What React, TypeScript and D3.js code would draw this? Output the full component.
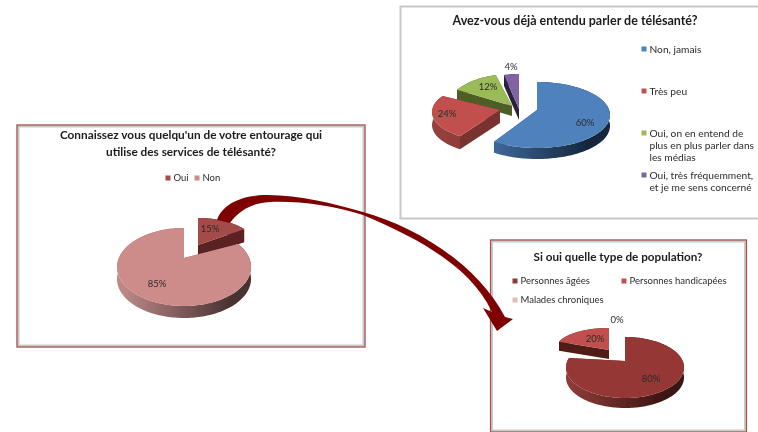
import { useEffect, useRef } from 'react';
import * as d3 from 'd3';

// top right chart
const awarenessTitle = ['Avez-vous déjà entendu parler de télésanté?'];
const awarenessValues = [60, 24, 12, 4];
const awarenessLegend = [
  ['Non, jamais'],
  ['Très peu'],
  ['Oui, on en entend de', 'plus en plus parler dans', 'les médias'],
  ['Oui, très fréquemment,', 'et je me sens concerné'],
];

// left chart
const entourageTitle = ['Connaissez vous quelqu\'un de votre entourage qui', 'utilise des services de télésanté?'];
const entourageValues = [15, 85];
const entourageLegend = ['Oui', 'Non'];

// bottom right chart
const populationTitle = ['Si oui quelle type de population?'];
const populationValues = [80, 20, 0];
const populationLegend = ['Personnes âgées', 'Personnes handicapées', 'Malades chroniques'];

const FONT = 'Lato, "Open Sans", sans-serif';
const TEXT = '#2b2b2b';

interface SliceLayout {
  cx: number; cy: number; rx: number; ry: number;
  lift: number; depth: number;
  top: string; cut: string; wall: [string, string];
  label: [number, number];
}

const awarenessSlices: SliceLayout[] = [
  { cx: 537, cy: 115, rx: 73, ry: 33, lift: 5, depth: 11, top: '#4f81bd', cut: '#2c4d75', wall: ['#4a78b0', '#14263c'], label: [585, 123] },
  { cx: 500, cy: 112, rx: 68, ry: 30, lift: 2, depth: 13, top: '#c0504d', cut: '#7a302e', wall: ['#96403e', '#6e2c2a'], label: [447, 114] },
  { cx: 512, cy: 108, rx: 65, ry: 34, lift: 2, depth: 10, top: '#9bbb59', cut: '#4e5f26', wall: ['#4e5f26', '#4e5f26'], label: [488, 87] },
  { cx: 519, cy: 109, rx: 60, ry: 35, lift: 0, depth: 11, top: '#8064a2', cut: '#2a2238', wall: ['#2a2238', '#2a2238'], label: [511, 67] },
];
const entourageSlices: SliceLayout[] = [
  { cx: 198, cy: 245, rx: 57, ry: 27, lift: 0, depth: 13, top: '#a44c49', cut: '#5a2220', wall: ['#5a2220', '#5a2220'], label: [210, 229] },
  { cx: 184, cy: 267, rx: 67, ry: 39, lift: 9, depth: 12, top: '#cd8b89', cut: '#8a5c5b', wall: ['#bb8886', '#4a3232'], label: [157, 284] },
];
const populationSlices: SliceLayout[] = [
  { cx: 625, cy: 367.5, rx: 59, ry: 30.5, lift: 6.5, depth: 10, top: '#953735', cut: '#5e2120', wall: ['#8c3a38', '#3a1412'], label: [651, 379] },
  { cx: 609, cy: 348, rx: 52.6, ry: 20, lift: -2, depth: 9, top: '#c0504d', cut: '#4f1b19', wall: ['#4f1b19', '#4f1b19'], label: [595, 339] },
  { cx: 617, cy: 340, rx: 50, ry: 20, lift: 0, depth: 9, top: '#e6b9b8', cut: '#e6b9b8', wall: ['#e6b9b8', '#e6b9b8'], label: [617, 320] },
];

type G = d3.Selection<SVGGElement, unknown, null, undefined>;

function drawPie(root: G, id: string, values: number[], layout: SliceLayout[], order: number[]) {
  const arcs = d3.pie<number>().sort(null).value(d => d)(values);
  const line = d3.line<[number, number]>();
  const defs = root.append('defs');

  order.forEach(i => {
    const a = arcs[i];
    const s = layout[i];
    if (a.value === 0) return;
    const angles = [...d3.range(a.startAngle, a.endAngle, 0.03), a.endAngle];
    const rim = angles.map(t => [s.cx + s.rx * Math.sin(t), s.cy - s.ry * Math.cos(t)] as [number, number]);
    const apex: [number, number] = [s.cx, s.cy - s.lift];
    const down = ([x, y]: [number, number]) => [x, y + s.depth] as [number, number];

    const first = rim[0];
    const last = rim[rim.length - 1];
    root.append('path').attr('fill', s.cut)
      .attr('d', line([apex, first, down(first), down(apex)]));
    root.append('path').attr('fill', s.cut)
      .attr('d', line([apex, last, down(last), down(apex)]));

    const gradId = `${id}-wall-${i}`;
    const grad = defs.append('linearGradient').attr('id', gradId)
      .attr('gradientUnits', 'userSpaceOnUse')
      .attr('x1', s.cx - s.rx * 0.9).attr('x2', s.cx + s.rx * 0.7)
      .attr('y1', 0).attr('y2', 0);
    grad.append('stop').attr('offset', 0).attr('stop-color', s.wall[0]);
    grad.append('stop').attr('offset', 1).attr('stop-color', s.wall[1]);

    root.append('path').attr('fill', `url(#${gradId})`)
      .attr('d', line([...rim, ...rim.map(down).reverse()]));
    root.append('path').attr('fill', s.top)
      .attr('d', line([apex, ...rim]) + 'Z');
  });

  arcs.forEach((a, i) => {
    root.append('text')
      .attr('x', layout[i].label[0]).attr('y', layout[i].label[1])
      .attr('dy', '0.35em').attr('text-anchor', 'middle')
      .attr('font-size', 9.5).attr('fill', '#2b2b2b')
      .text(`${a.value}%`);
  });
}

function drawFrame(root: G, x: number, y: number, w: number, h: number, red: boolean) {
  root.append('rect').attr('x', x).attr('y', y).attr('width', w).attr('height', h)
    .attr('fill', '#fff').attr('stroke', '#c8c8c8').attr('stroke-width', red ? 3 : 2);
  if (red) {
    root.append('rect').attr('x', x - 1).attr('y', y - 1).attr('width', w + 2).attr('height', h + 2)
      .attr('fill', 'none').attr('stroke', '#a8504e').attr('stroke-width', 1.2);
  }
}

function drawTitle(root: G, lines: string[], x: number, y: number, size: number, gap: number) {
  lines.forEach((t, i) => {
    root.append('text').attr('x', x).attr('y', y + i * gap)
      .attr('dy', '0.35em').attr('text-anchor', 'middle')
      .attr('font-size', size).attr('font-weight', 700).attr('fill', '#1c1c1c')
      .text(t);
  });
}

function drawKey(root: G, label: string[], color: string, x: number, y: number, size: number) {
  root.append('rect').attr('x', x - 2.5).attr('y', y - 2.5).attr('width', 5).attr('height', 5).attr('fill', color);
  label.forEach((t, i) => {
    root.append('text').attr('x', x + 5.5).attr('y', y + i * 12)
      .attr('dy', '0.35em').attr('font-size', size).attr('fill', TEXT)
      .text(t);
  });
}

export default function App() {
  const svgRef = useRef<SVGSVGElement>(null);

  useEffect(() => {
    if (!svgRef.current) return;
    const svg = d3.select(svgRef.current);
    svg.selectAll('*').remove();

    svg.append('filter').attr('id', 'soft')
      .append('feGaussianBlur').attr('stdDeviation', 0.45);

    const root = svg.append('g').attr('font-family', FONT).attr('filter', 'url(#soft)') as unknown as G;
    root.append('rect').attr('width', 758).attr('height', 432).attr('fill', '#fff');

    // top right
    drawFrame(root, 400.5, 6.5, 370, 212, false);
    drawTitle(root, awarenessTitle, 575, 21, 12.5, 0);
    drawPie(root, 'aware', awarenessValues, awarenessSlices, [2, 3, 1, 0]);
    const keyY = [49, 91, 133, 175];
    awarenessLegend.forEach((l, i) => drawKey(root, l, awarenessSlices[i].top, 644, keyY[i], 10.2));

    // left
    drawFrame(root, 18, 126, 346, 220, true);
    drawTitle(root, entourageTitle, 191, 135, 11.8, 17);
    drawPie(root, 'entourage', entourageValues, entourageSlices, [0, 1]);
    drawKey(root, [entourageLegend[0]], entourageSlices[0].top, 168, 178, 9.5);
    drawKey(root, [entourageLegend[1]], entourageSlices[1].top, 197, 178, 9.5);

    // bottom right
    drawFrame(root, 491.5, 241, 254, 190, true);
    drawTitle(root, populationTitle, 618, 257, 11.7, 0);
    drawPie(root, 'population', populationValues, populationSlices, [1, 0]);
    drawKey(root, [populationLegend[0]], populationSlices[0].top, 515, 281, 9.5);
    drawKey(root, [populationLegend[1]], populationSlices[1].top, 624, 281, 9.5);
    drawKey(root, [populationLegend[2]], populationSlices[2].top, 515, 300, 9.5);

    // curved arrow joining the left chart to the bottom right one
    const arrow = d3.path();
    arrow.moveTo(217, 220);
    arrow.bezierCurveTo(222, 205, 240, 195, 267, 195);
    arrow.bezierCurveTo(300, 195, 335, 204, 363, 212);
    arrow.bezierCurveTo(410, 225, 475, 260, 505, 317);
    arrow.lineTo(513, 319);
    arrow.lineTo(497, 331);
    arrow.lineTo(483, 308);
    arrow.lineTo(492, 312);
    arrow.bezierCurveTo(470, 265, 415, 237, 363, 215);
    arrow.bezierCurveTo(330, 205, 300, 201, 270, 202);
    arrow.bezierCurveTo(250, 203, 238, 212, 230, 223);
    arrow.closePath();
    root.append('path').attr('d', arrow.toString()).attr('fill', '#7f0000');
  }, []);

  return (
    <svg
      ref={svgRef}
      width={758}
      height={432}
      style={{ position: 'absolute', left: 0, top: 0, display: 'block' }}
    />
  );
}
